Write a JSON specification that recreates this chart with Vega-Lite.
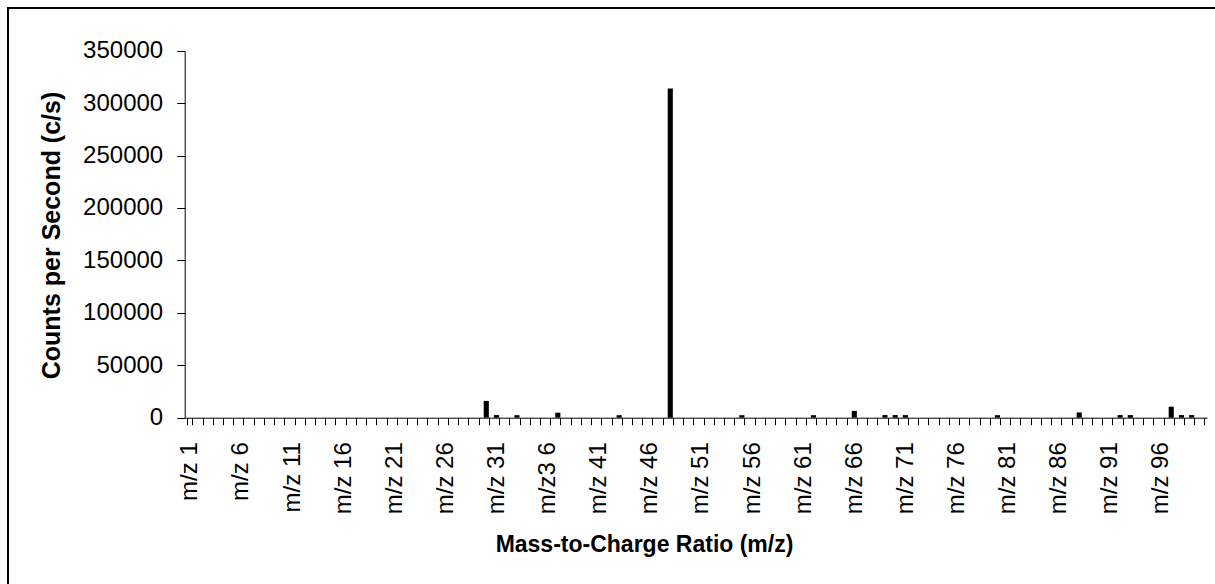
{
  "$schema": "https://vega.github.io/schema/vega-lite/v6.json",
  "autosize": {"type": "none"},
  "padding": {"left": 8, "top": 8, "right": 0, "bottom": 0},
  "width": 1210,
  "height": 580,
  "background": "#ffffff",
  "config": {
    "view": {"stroke": "#000000", "strokeWidth": 2, "fill": "#ffffff"},
    "axis": {
      "labelFont": "Liberation Sans",
      "titleFont": "Liberation Sans",
      "labelColor": "#000000",
      "titleColor": "#000000",
      "domainColor": "#000000",
      "tickColor": "#000000",
      "grid": false
    }
  },
  "data": {
    "values": [
      {"mz": "m/z 1", "cps": 0}, {"mz": "m/z 2", "cps": 0}, {"mz": "m/z 3", "cps": 0}, {"mz": "m/z 4", "cps": 0}, {"mz": "m/z 5", "cps": 0},
      {"mz": "m/z 6", "cps": 0}, {"mz": "m/z 7", "cps": 0}, {"mz": "m/z 8", "cps": 0}, {"mz": "m/z 9", "cps": 0}, {"mz": "m/z 10", "cps": 0},
      {"mz": "m/z 11", "cps": 0}, {"mz": "m/z 12", "cps": 0}, {"mz": "m/z 13", "cps": 0}, {"mz": "m/z 14", "cps": 0}, {"mz": "m/z 15", "cps": 0},
      {"mz": "m/z 16", "cps": 0}, {"mz": "m/z 17", "cps": 0}, {"mz": "m/z 18", "cps": 0}, {"mz": "m/z 19", "cps": 0}, {"mz": "m/z 20", "cps": 0},
      {"mz": "m/z 21", "cps": 0}, {"mz": "m/z 22", "cps": 0}, {"mz": "m/z 23", "cps": 0}, {"mz": "m/z 24", "cps": 0}, {"mz": "m/z 25", "cps": 0},
      {"mz": "m/z 26", "cps": 0}, {"mz": "m/z 27", "cps": 0}, {"mz": "m/z 28", "cps": 0}, {"mz": "m/z 29", "cps": 0}, {"mz": "m/z 30", "cps": 16000},
      {"mz": "m/z 31", "cps": 2500}, {"mz": "m/z 32", "cps": 0}, {"mz": "m/z 33", "cps": 2400}, {"mz": "m/z 34", "cps": 0}, {"mz": "m/z 35", "cps": 0},
      {"mz": "m/z3 6", "cps": 0}, {"mz": "m/z 37", "cps": 4800}, {"mz": "m/z 38", "cps": 0}, {"mz": "m/z 39", "cps": 0}, {"mz": "m/z 40", "cps": 0},
      {"mz": "m/z 41", "cps": 0}, {"mz": "m/z 42", "cps": 0}, {"mz": "m/z 43", "cps": 2400}, {"mz": "m/z 44", "cps": 0}, {"mz": "m/z 45", "cps": 0},
      {"mz": "m/z 46", "cps": 0}, {"mz": "m/z 47", "cps": 0}, {"mz": "m/z 48", "cps": 314000}, {"mz": "m/z 49", "cps": 0}, {"mz": "m/z 50", "cps": 0},
      {"mz": "m/z 51", "cps": 0}, {"mz": "m/z 52", "cps": 0}, {"mz": "m/z 53", "cps": 0}, {"mz": "m/z 54", "cps": 0}, {"mz": "m/z 55", "cps": 2400},
      {"mz": "m/z 56", "cps": 0}, {"mz": "m/z 57", "cps": 0}, {"mz": "m/z 58", "cps": 0}, {"mz": "m/z 59", "cps": 0}, {"mz": "m/z 60", "cps": 0},
      {"mz": "m/z 61", "cps": 0}, {"mz": "m/z 62", "cps": 2400}, {"mz": "m/z 63", "cps": 0}, {"mz": "m/z 64", "cps": 0}, {"mz": "m/z 65", "cps": 0},
      {"mz": "m/z 66", "cps": 6500}, {"mz": "m/z 67", "cps": 0}, {"mz": "m/z 68", "cps": 0}, {"mz": "m/z 69", "cps": 2500}, {"mz": "m/z 70", "cps": 2500},
      {"mz": "m/z 71", "cps": 2500}, {"mz": "m/z 72", "cps": 0}, {"mz": "m/z 73", "cps": 0}, {"mz": "m/z 74", "cps": 0}, {"mz": "m/z 75", "cps": 0},
      {"mz": "m/z 76", "cps": 0}, {"mz": "m/z 77", "cps": 0}, {"mz": "m/z 78", "cps": 0}, {"mz": "m/z 79", "cps": 0}, {"mz": "m/z 80", "cps": 2400},
      {"mz": "m/z 81", "cps": 0}, {"mz": "m/z 82", "cps": 0}, {"mz": "m/z 83", "cps": 0}, {"mz": "m/z 84", "cps": 0}, {"mz": "m/z 85", "cps": 0},
      {"mz": "m/z 86", "cps": 0}, {"mz": "m/z 87", "cps": 0}, {"mz": "m/z 88", "cps": 5000}, {"mz": "m/z 89", "cps": 0}, {"mz": "m/z 90", "cps": 0},
      {"mz": "m/z 91", "cps": 0}, {"mz": "m/z 92", "cps": 2500}, {"mz": "m/z 93", "cps": 2500}, {"mz": "m/z 94", "cps": 0}, {"mz": "m/z 95", "cps": 0},
      {"mz": "m/z 96", "cps": 0}, {"mz": "m/z 97", "cps": 10500}, {"mz": "m/z 98", "cps": 2500}, {"mz": "m/z 99", "cps": 2500}, {"mz": "m/z 100", "cps": 0}
    ]
  },
  "mark": {"type": "bar", "color": "#000000"},
  "encoding": {
    "x": {
      "field": "mz",
      "type": "nominal",
      "sort": null,
      "scale": {"range": [176.7, 1199], "paddingInner": 0.5, "paddingOuter": 0.25},
      "axis": {
        "offset": -170.3,
        "tickBand": "extent",
        "tickSize": 7,
        "labelAngle": -90,
        "labelFontSize": 24,
        "labelPadding": 17,
        "labelOverlap": false,
        "labelBound": false,
        "labelExpr": "indexof(['m/z 1','m/z 6','m/z 11','m/z 16','m/z 21','m/z 26','m/z 31','m/z3 6','m/z 41','m/z 46','m/z 51','m/z 56','m/z 61','m/z 66','m/z 71','m/z 76','m/z 81','m/z 86','m/z 91','m/z 96'], datum.value) >= 0 ? datum.label : ''",
        "title": "Mass-to-Charge Ratio (m/z)",
        "titleFontSize": 23,
        "titleFontWeight": "bold",
        "titleX": 636,
        "titleY": 127,
        "titleAlign": "center",
        "titleBaseline": "middle",
        "titleAngle": 0
      }
    },
    "y": {
      "field": "cps",
      "type": "quantitative",
      "scale": {"domain": [0, 350000], "range": [409.7, 42.7], "nice": false, "zero": true},
      "axis": {
        "offset": -176.7,
        "values": [0, 50000, 100000, 150000, 200000, 250000, 300000, 350000],
        "format": "d",
        "tickSize": 8,
        "labelFontSize": 24,
        "labelPadding": 14,
        "title": "Counts per Second (c/s)",
        "titleFontSize": 25,
        "titleFontWeight": "bold",
        "titleAngle": -90,
        "titleX": -133,
        "titleY": 227,
        "titleAlign": "center",
        "titleBaseline": "middle"
      }
    }
  }
}
